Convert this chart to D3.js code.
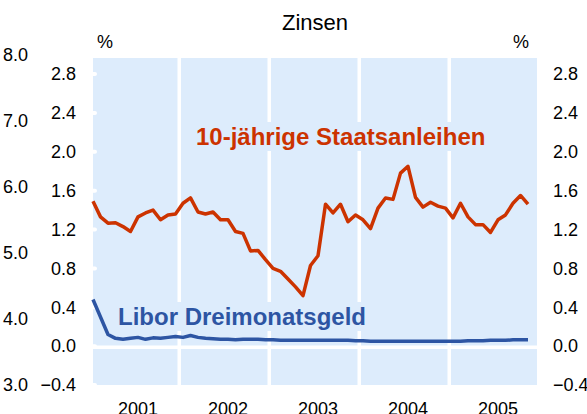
<!DOCTYPE html>
<html>
<head>
<meta charset="utf-8">
<script src="https://cdnjs.cloudflare.com/ajax/libs/d3/7.8.5/d3.min.js"></script>
<style>
  body { margin: 0; background: #fff; }
  text { font-family: "Liberation Sans", Arial, sans-serif; }
</style>
</head>
<body>
<script>
// Data ------------------------------------------------------------------------
var years = ["2001", "2002", "2003", "2004", "2005"];

// 10-jaehrige Staatsanleihen, monthly Jan 2001 - Nov 2005
var staatsanleihen = [
  1.49, 1.33, 1.265, 1.27, 1.23, 1.18, 1.33, 1.37, 1.40, 1.30, 1.35, 1.36,
  1.47, 1.525, 1.38, 1.36, 1.38, 1.30, 1.30, 1.18, 1.16, 0.98, 0.985, 0.89,
  0.80, 0.77, 0.69, 0.61, 0.52, 0.83, 0.93, 1.46, 1.37, 1.46, 1.28, 1.35,
  1.30, 1.21, 1.42, 1.525, 1.51, 1.78, 1.85, 1.53, 1.43, 1.48, 1.44, 1.42,
  1.32, 1.47, 1.33, 1.25, 1.25, 1.17, 1.30, 1.35, 1.47, 1.55, 1.46
];

// Libor Dreimonatsgeld, monthly Jan 2001 - Nov 2005
var libor = [
  0.48, 0.30, 0.12, 0.08, 0.07, 0.08, 0.09, 0.07, 0.085, 0.08, 0.09, 0.10,
  0.09, 0.11, 0.09, 0.08, 0.075, 0.07, 0.07, 0.065, 0.07, 0.07, 0.07, 0.065,
  0.065, 0.06, 0.06, 0.06, 0.06, 0.06, 0.06, 0.06, 0.06, 0.06, 0.06, 0.055,
  0.055, 0.05, 0.05, 0.05, 0.05, 0.05, 0.05, 0.05, 0.05, 0.05, 0.05, 0.05,
  0.05, 0.05, 0.055, 0.055, 0.055, 0.06, 0.06, 0.06, 0.065, 0.065, 0.065
];

var innerTicks = [-0.4, 0.0, 0.4, 0.8, 1.2, 1.6, 2.0, 2.4, 2.8];
var outerTicks = [3.0, 4.0, 5.0, 6.0, 7.0, 8.0];

// Layout ----------------------------------------------------------------------
var width = 587, height = 414;
var panelLeft = 93, panelRight = 537, panelTop = 58, panelBottom = 385;
var panelColor = "#ddecfc";
var redColor = "#cc3300";
var blueColor = "#2d55a3";

var svg = d3.select("body").append("svg")
  .attr("width", width)
  .attr("height", height);

var x = d3.scaleLinear().domain([0, 59.2]).range([panelLeft, panelRight]);
var y = d3.scaleLinear().domain([-0.4, 2.8]).range([panelBottom, 74]);
var yOuter = d3.scaleLinear().domain([3, 8]).range([panelBottom, 55]);

// Panel background
svg.append("rect")
  .attr("x", panelLeft).attr("y", panelTop)
  .attr("width", panelRight - panelLeft)
  .attr("height", panelBottom - panelTop)
  .style("fill", panelColor);

// Year separators (between Dec and Jan)
var boundaries = years.slice(1).map(function(d, i) { return 11.5 + 12 * i; });
svg.selectAll(".vgrid")
  .data(boundaries)
  .enter().append("line")
  .attr("class", "vgrid")
  .attr("x1", function(d) { return x(d); })
  .attr("x2", function(d) { return x(d); })
  .attr("y1", panelTop).attr("y2", panelBottom)
  .style("stroke", "#fff")
  .style("stroke-width", 3.5);

// zero line
svg.append("line")
  .attr("x1", panelLeft).attr("x2", panelRight)
  .attr("y1", y(0) + 1).attr("y2", y(0) + 1)
  .style("stroke", "#fff")
  .style("stroke-width", 3.5);

// little white ticks on the left edge of the panel
svg.selectAll(".nub")
  .data(innerTicks)
  .enter().append("line")
  .attr("class", "nub")
  .attr("x1", panelLeft).attr("x2", panelLeft + 2)
  .attr("y1", function(d) { return y(d); })
  .attr("y2", function(d) { return y(d); })
  .style("stroke", "#fff")
  .style("stroke-width", 4)
  .style("stroke-linecap", "round");

// Series labels with panel-coloured boxes behind them
function seriesLabel(txt, lx, ly, color) {
  var g = svg.append("g");
  var box = g.append("rect").style("fill", panelColor);
  var t = g.append("text")
    .attr("x", lx).attr("y", ly)
    .style("font-size", "24px")
    .style("font-weight", "bold")
    .style("fill", color)
    .text(txt);
  var bb = t.node().getBBox();
  box.attr("x", bb.x - 4).attr("y", bb.y - 1)
    .attr("width", bb.width + 8).attr("height", bb.height + 2);
}
seriesLabel("10-jährige Staatsanleihen", 196, 145, redColor);
seriesLabel("Libor Dreimonatsgeld", 118, 325, blueColor);

// Lines
var line = d3.line()
  .x(function(d, i) { return x(i); })
  .y(function(d) { return y(d); });

svg.append("path")
  .datum(staatsanleihen)
  .attr("d", line)
  .style("fill", "none")
  .style("stroke", redColor)
  .style("stroke-width", 3.5)
  .style("stroke-linejoin", "round");

svg.append("path")
  .datum(libor)
  .attr("d", line)
  .style("fill", "none")
  .style("stroke", blueColor)
  .style("stroke-width", 3.5)
  .style("stroke-linejoin", "round");

// Axes ------------------------------------------------------------------------
function styleAxis(g) {
  g.select(".domain").remove();
  g.selectAll(".tick line").remove();
  g.selectAll("text")
    .style("font-size", "18px")
    .style("fill", "#000")
    .style("font-family", "'Liberation Sans', Arial, sans-serif");
}

svg.append("g")
  .attr("transform", "translate(76,0)")
  .call(d3.axisLeft(y).tickValues(innerTicks).tickSize(0).tickPadding(0).tickFormat(d3.format(".1f")))
  .call(styleAxis);

svg.append("g")
  .attr("transform", "translate(28,0)")
  .call(d3.axisLeft(yOuter).tickValues(outerTicks).tickSize(0).tickPadding(0).tickFormat(d3.format(".1f")))
  .call(styleAxis);

svg.append("g")
  .attr("transform", "translate(553,0)")
  .call(d3.axisRight(y).tickValues(innerTicks).tickSize(0).tickPadding(0).tickFormat(d3.format(".1f")))
  .call(styleAxis);

// year labels centred on July
svg.selectAll(".year")
  .data(years)
  .enter().append("text")
  .attr("class", "year")
  .attr("x", function(d, i) { return x(6 + 12 * i); })
  .attr("y", 415)
  .attr("text-anchor", "middle")
  .style("font-size", "18px")
  .text(function(d) { return d; });

// Title and units
svg.append("text")
  .attr("x", (panelLeft + panelRight) / 2)
  .attr("y", 30)
  .attr("text-anchor", "middle")
  .style("font-size", "22px")
  .text("Zinsen");

svg.append("text")
  .attr("x", 97).attr("y", 48)
  .style("font-size", "18px")
  .text("%");

svg.append("text")
  .attr("x", 529).attr("y", 48)
  .attr("text-anchor", "end")
  .style("font-size", "18px")
  .text("%");
</script>
</body>
</html>
